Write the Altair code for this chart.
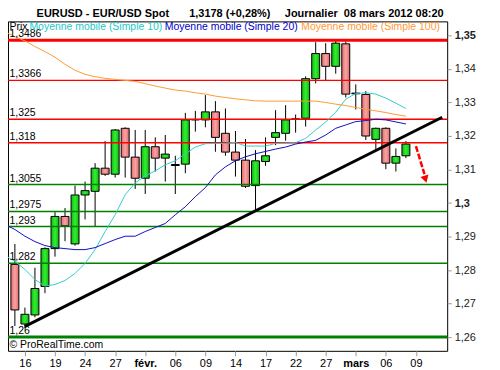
import altair as alt
import pandas as pd

# ---------------- data ----------------
days = ["01-13", "01-16", "01-17", "01-18", "01-19", "01-20", "01-23", "01-24", "01-25", "01-26",
        "01-27", "01-30", "01-31", "02-01", "02-02", "02-03", "02-06", "02-07", "02-08", "02-09",
        "02-10", "02-13", "02-14", "02-15", "02-16", "02-17", "02-20", "02-21", "02-22", "02-23",
        "02-24", "02-27", "02-28", "02-29", "03-01", "03-02", "03-05", "03-06", "03-07", "03-08"]

opens = [1.2817, 1.2639, 1.2666, 1.2751, 1.2864, 1.2960, 1.2878, 1.3024, 1.3035, 1.3104,
         1.3086, 1.3223, 1.3137, 1.3074, 1.3168, 1.3134, 1.3115, 1.3116, 1.3248, 1.3248,
         1.3272, 1.3208, 1.3152, 1.3128, 1.3052, 1.3124, 1.3196, 1.3208, 1.3250, 1.3253,
         1.3371, 1.3446, 1.3408, 1.3475, 1.3328, 1.3324, 1.3190, 1.3223, 1.3119, 1.3141]
closes = [1.2681, 1.2668, 1.2745, 1.2864, 1.2960, 1.2932, 1.3024, 1.3037, 1.3104, 1.3086,
          1.3218, 1.3137, 1.3074, 1.3168, 1.3134, 1.3146, 1.3112, 1.3248, 1.3249, 1.3272,
          1.3196, 1.3152, 1.3128, 1.3050, 1.3126, 1.3141, 1.3210, 1.3248, 1.3251, 1.3371,
          1.3446, 1.3408, 1.3477, 1.3325, 1.3326, 1.3200, 1.3223, 1.3119, 1.3139, 1.3176]
highs = [1.2878, 1.2688, 1.2807, 1.2868, 1.2973, 1.2985, 1.3052, 1.3064, 1.3119, 1.3185,
         1.3221, 1.3226, 1.3218, 1.3218, 1.3196, 1.3203, 1.3141, 1.3269, 1.3275, 1.3322,
         1.3304, 1.3282, 1.3215, 1.3191, 1.3158, 1.3196, 1.3277, 1.3292, 1.3264, 1.3378,
         1.3480, 1.3477, 1.3485, 1.3482, 1.3354, 1.3334, 1.3225, 1.3226, 1.3163, 1.3185]
lows = [1.2633, 1.2627, 1.2659, 1.2731, 1.2840, 1.2886, 1.2873, 1.2951, 1.2929, 1.3081,
        1.3076, 1.3076, 1.3042, 1.3027, 1.3094, 1.3064, 1.3027, 1.3089, 1.3213, 1.3226,
        1.3153, 1.3141, 1.3079, 1.3045, 1.2975, 1.3111, 1.3173, 1.3186, 1.3210, 1.3228,
        1.3357, 1.3366, 1.3386, 1.3315, 1.3279, 1.3188, 1.3161, 1.3101, 1.3094, 1.3134]

# moving averages, one value per trading day, starting one day before the first candle
ma_idx = list(range(-1, 40))
ma10 = [1.2844, 1.2826, 1.2802, 1.2772, 1.2752, 1.2757, 1.2769, 1.2790, 1.2820, 1.2861, 1.2915,
        1.2965, 1.3025, 1.3060, 1.3081, 1.3096, 1.3114, 1.3126, 1.3147, 1.3167, 1.3177,
        1.3178, 1.3178, 1.3181, 1.3170, 1.3170, 1.3170, 1.3178, 1.3179, 1.3180, 1.3193,
        1.3218, 1.3242, 1.3271, 1.3310, 1.3327, 1.3329, 1.3325, 1.3313, 1.3298, 1.3282]
ma20 = [1.2936, 1.2921, 1.2901, 1.2885, 1.2873, 1.2867, 1.2864, 1.2861, 1.2861, 1.2867, 1.2879,
        1.2891, 1.2901, 1.2901, 1.2915, 1.2927, 1.2939, 1.2965, 1.2989, 1.3019, 1.3046,
        1.3084, 1.3108, 1.3126, 1.3138, 1.3147, 1.3154, 1.3161, 1.3167, 1.3176, 1.3182,
        1.3187, 1.3203, 1.3223, 1.3233, 1.3243, 1.3246, 1.3250, 1.3248, 1.3242, 1.3236]
ma100 = [1.3512, 1.3496, 1.3484, 1.3467, 1.3452, 1.3435, 1.3414, 1.3396, 1.3384, 1.3377, 1.3372,
         1.3369, 1.3366, 1.3363, 1.3356, 1.3349, 1.3343, 1.3337, 1.3334, 1.3329, 1.3325,
         1.3319, 1.3315, 1.3311, 1.3308, 1.3305, 1.3304, 1.3304, 1.3304, 1.3304, 1.3304,
         1.3304, 1.3300, 1.3295, 1.3291, 1.3285, 1.3280, 1.3275, 1.3270, 1.3264, 1.3259]

red_levels = [1.3486, 1.3366, 1.325, 1.318]
red_labels = ["1,3486", "1,3366", "1,325", "1,318"]
red_widths = [3, 1.5, 1.5, 1.5]
green_levels = [1.3055, 1.2975, 1.293, 1.282, 1.26]
green_labels = ["1,3055", "1,2975", "1,293", "1,282", "1,26"]
green_widths = [1.5, 1.5, 1.5, 1.5, 3]

trend_i = [1, 42.62]
trend_v = [1.2632, 1.3256]

arrow_i = [40.0, 40.85]
arrow_v = [1.3170, 1.3086]
arrow_head_i = [40.95]
arrow_head_v = [1.3071]

tick_idx = [1, 4, 7, 10, 13, 16, 19, 22, 25, 28, 31, 34, 37, 40]
tick_lbl = ["16", "19", "24", "27", "févr.", "06", "09", "14", "17", "22", "27", "mars", "06", "09"]
y_ticks = [1.26, 1.27, 1.28, 1.29, 1.30, 1.31, 1.32, 1.33, 1.34, 1.35]

title_parts = ["EURUSD - EUR/USD Spot", "1,3178 (+0,28%)", "Journalier\u00a0\u00a008 mars 2012 08:20"]
legend_parts = ["Prix", "Moyenne mobile (Simple 10)", "Moyenne mobile (Simple 20)", "Moyenne mobile (Simple 100)"]
legend_colors = ["#000000", "#22c8c8", "#0000cc", "#ff9933"]
copyright_text = "© ProRealTime.com"

# ---------------- build ----------------
FONT = "Liberation Sans"
X_DOM = [-0.19, 42.62]
Y_DOM = [1.2559, 1.3542]
xs = alt.Scale(domain=X_DOM, nice=False, zero=False)
ys = alt.Scale(domain=Y_DOM, nice=False, zero=False)

candles = pd.DataFrame({"i": list(range(len(opens))), "day": days, "open": opens,
                        "close": closes, "high": highs, "low": lows})
candles["dir"] = ["up" if c >= o else "down" for o, c in zip(opens, closes)]

lbl_expr = "".join(f"datum.value == {t} ? '{l}' : " for t, l in zip(tick_idx, tick_lbl)) + "''"
bold_ticks = [t for t, l in zip(tick_idx, tick_lbl) if l in ("févr.", "mars")]
bold_test = " || ".join(f"datum.value == {t}" for t in bold_ticks)

x_axis = alt.Axis(values=tick_idx, labelExpr=lbl_expr, title=None, domain=False, grid=False,
                  tickColor="#999999", tickSize=5, labelFont=FONT, labelFontSize=11,
                  labelColor="#000000", labelPadding=2, labelFlush=False, labelOverlap=False,
                  labelFontWeight={"condition": {"test": bold_test, "value": "bold"}, "value": "normal"})
y_axis = alt.Axis(orient="right", values=y_ticks, title=None, domain=False, grid=False,
                  labelExpr="replace(format(datum.value, '.2~f'), '.', ',')",
                  tickColor="#999999", tickSize=4, labelFont=FONT, labelFontSize=11,
                  labelColor="#222222", labelPadding=3, labelOverlap=False, labelFlush=False,
                  labelFontWeight={"condition": {"test": "abs(datum.value - 1.3) < 0.001 || abs(datum.value - 1.35) < 0.001",
                                                 "value": "bold"}, "value": "normal"})


def X(field):
    return alt.X(f"{field}:Q", scale=xs, axis=x_axis)


def Y(field):
    return alt.Y(f"{field}:Q", scale=ys, axis=y_axis)


base = alt.Chart(candles)
wicks = base.mark_rule(color="black", strokeWidth=1).encode(x=X("i"), y=Y("low"), y2="high:Q")


def grad(edge, mid):
    return alt.LinearGradient(gradient="linear", x1=0, x2=1, y1=0, y2=0,
                              stops=[alt.GradientStop(offset=0, color=edge),
                                     alt.GradientStop(offset=0.5, color=mid),
                                     alt.GradientStop(offset=1, color=edge)])


up_bodies = base.transform_filter("datum.dir == 'up'").mark_bar(
    size=8, fill=grad("#14b414", "#30f030"), stroke="black", strokeWidth=1).encode(
    x=X("i"), y=Y("open"), y2="close:Q")
down_bodies = base.transform_filter("datum.dir == 'down'").mark_bar(
    size=8, fill=grad("#e26a6a", "#f8a4a4"), stroke="black", strokeWidth=1).encode(
    x=X("i"), y=Y("open"), y2="close:Q")

red_df = pd.DataFrame({"v": red_levels, "lab": red_labels, "w": red_widths})
green_df = pd.DataFrame({"v": green_levels, "lab": green_labels, "w": green_widths})
red_lines = alt.Chart(red_df).mark_rule(color="#ff0000").encode(
    y=Y("v"), strokeWidth=alt.StrokeWidth("w:Q", scale=None, legend=None))
green_lines = alt.Chart(green_df).mark_rule(color="#008000").encode(
    y=Y("v"), strokeWidth=alt.StrokeWidth("w:Q", scale=None, legend=None))
levels_df = pd.concat([red_df, green_df], ignore_index=True)
level_text = alt.Chart(levels_df).mark_text(align="left", baseline="alphabetic", dy=-3,
                                            font=FONT, fontSize=10.5, color="black").encode(
    x=alt.value(1.5), y=Y("v"), text="lab:N")


def ma_line(vals, color):
    df = pd.DataFrame({"i": ma_idx, "v": vals})
    return alt.Chart(df).mark_line(strokeWidth=1, clip=True, color=color).encode(x=X("i"), y=Y("v"))


ma_lines = [ma_line(ma10, "#33cccc"), ma_line(ma20, "#1010c0"), ma_line(ma100, "#ff9933")]

trend = alt.Chart(pd.DataFrame({"i": trend_i, "v": trend_v})).mark_line(
    color="black", strokeWidth=3, clip=True).encode(x=X("i"), y=Y("v"))

arrow = alt.Chart(pd.DataFrame({"i": arrow_i, "v": arrow_v})).mark_line(
    color="#ff0000", strokeWidth=2.5, strokeDash=[6, 2]).encode(x=X("i"), y=Y("v"))
arrow_head = alt.Chart(pd.DataFrame({"i": arrow_head_i, "v": arrow_head_v})).mark_point(
    shape="triangle-down", filled=True, color="#ff0000", size=70, angle=343, opacity=1).encode(
    x=X("i"), y=Y("v"))

one = pd.DataFrame({"k": [0]})


def label(text, x, y, color="black", size=10.5, weight="normal"):
    return alt.Chart(one).mark_text(text=text, align="left", baseline="alphabetic", font=FONT,
                                    fontSize=size, fontWeight=weight, color=color).encode(
        x=alt.value(x), y=alt.value(y))


title_x = [28.7, 182, 278]
legend_x = [1.5, 21.5, 157.5, 294.5]
texts = [label(t, x, -4.2, size=11, weight="bold") for t, x in zip(title_parts, title_x)]
texts += [label(t, x, 8.8, color=c) for t, x, c in zip(legend_parts, legend_x, legend_colors)]
texts += [label(copyright_text, 1.5, 328.3)]

chart = alt.layer(wicks, up_bodies, down_bodies, red_lines, green_lines, *ma_lines, trend, arrow,
                  arrow_head, level_text, *texts).properties(
    width=441, height=330.8,
    padding={"left": 0, "top": 12.7, "right": 45, "bottom": 17},
    autosize=alt.AutoSizeParams(type="none"),
    background="white",
).configure_view(stroke="black", strokeWidth=1)

chart.save("out.html", embed_options={"renderer": "svg", "actions": False})
